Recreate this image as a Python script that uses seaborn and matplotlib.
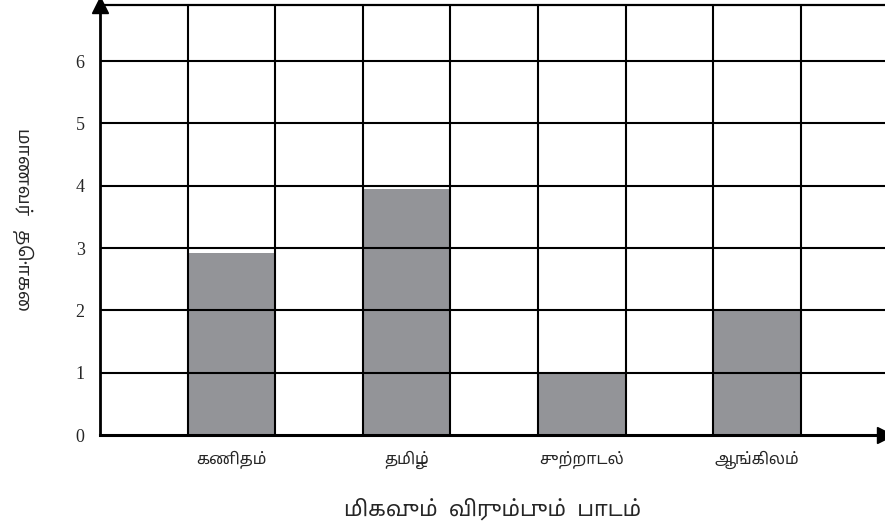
import matplotlib
matplotlib.use("Agg")
import matplotlib.pyplot as plt
import numpy as np
import pandas as pd
import seaborn as sns

# Favourite subject survey: number of students per subject
subjects = ["கணிதம்", "தமிழ்", "சுற்றாடல்", "ஆங்கிலம்"]
students = [2.92, 3.95, 1.0, 2.0]
y_ticks = [0, 1, 2, 3, 4, 5, 6]
x_title = "மிகவும்  விரும்பும்  பாடம்"
y_title = "மாணவர்   தொகை"

# each subject occupies every second column of the grid
slots = []
for i, s in enumerate(subjects):
    slots.append("gap%d" % i)
    slots.append(s)
slots.append("gap%d" % len(subjects))

df = pd.DataFrame({"subject": subjects, "students": students})

sns.set_theme(style="white")
TAMIL = ["Noto Sans Tamil", "FreeSans", "DejaVu Sans"]
SERIF = ["Liberation Serif", "DejaVu Serif"]

fig = plt.figure(figsize=(8.85, 5.29), dpi=100)
ax = fig.add_axes([100 / 885, 94 / 529, 785 / 885, 430 / 529])

sns.barplot(data=df, x="subject", y="students", order=slots,
            color="#939498", saturation=1, width=1.0, linewidth=0, ax=ax)

ax.set_xlim(-0.5, 8.46)
ax.set_ylim(0, 6.9)

# grid: one column per slot, one row per student
for xv in np.arange(len(slots) - 1) + 0.5:
    ax.axvline(xv, color="black", linewidth=1.5, zorder=3)
for v in y_ticks[1:]:
    ax.axhline(v, color="black", linewidth=1.5, zorder=3)
ax.grid(False)

ax.set_xticks([slots.index(s) for s in subjects])
ax.set_xticklabels(subjects, family=TAMIL, fontsize=11.5)
ax.set_yticks(y_ticks)
ax.set_yticklabels([str(v) for v in y_ticks], family=SERIF, fontsize=13)

ax.tick_params(axis="both", which="both", length=0)
ax.tick_params(axis="y", pad=11)
ax.tick_params(axis="x", pad=11)

ax.spines["right"].set_visible(False)
ax.spines["top"].set_linewidth(1.6)
ax.spines["left"].set_linewidth(2.0)
ax.spines["bottom"].set_linewidth(2.2)
for sp in ax.spines.values():
    sp.set_color("black")
    sp.set_zorder(4)

# arrow heads on both axes
ax.plot([0], [1.0], marker="^", markersize=11, color="black",
        transform=ax.transAxes, clip_on=False, zorder=5)
ax.plot([1.0], [0], marker=">", markersize=11, color="black",
        transform=ax.transAxes, clip_on=False, zorder=5)

ax.set_xlabel(x_title, family=TAMIL, fontsize=15.5, labelpad=21)
ax.set_ylabel(y_title, family=TAMIL, fontsize=13, rotation=270,
              labelpad=38, va="center")

fig.savefig("out.png", dpi=100)
